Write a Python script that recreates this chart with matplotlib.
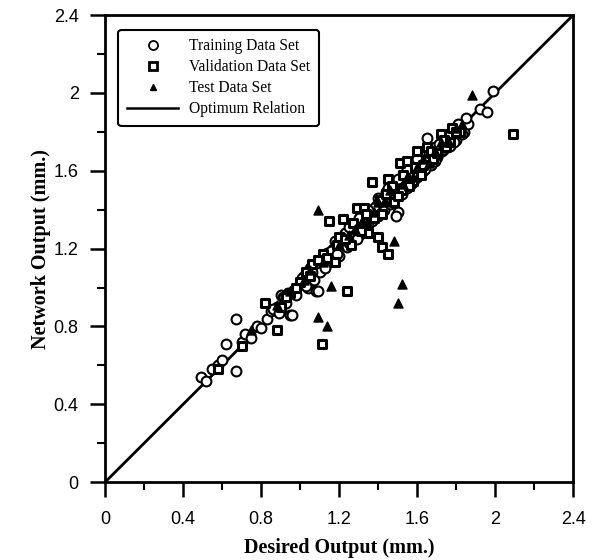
import matplotlib
matplotlib.use("Agg")
import matplotlib.pyplot as plt
from matplotlib.ticker import MultipleLocator
from matplotlib.lines import Line2D

train_x = [0.49,0.52,0.55,0.58,0.60,0.62,0.67,0.67,0.70,0.72,0.75,0.78,0.80,0.83,0.85,0.88,0.90,0.91,0.93,0.95,
           0.97,1.00,1.02,1.04,1.05,1.08,1.08,1.10,1.12,1.14,1.15,1.17,1.18,1.20,1.21,1.23,1.24,1.26,1.28,1.30,
           1.31,1.33,1.34,1.36,1.37,1.39,1.40,1.42,1.43,1.45,1.46,1.48,1.50,1.50,1.52,1.53,1.55,1.56,1.58,1.59,
           1.60,1.62,1.63,1.65,1.65,1.67,1.68,1.70,1.72,1.73,1.75,1.77,1.78,1.80,1.82,1.84,1.86,1.92,1.96,1.99,
           1.21,1.09,0.96,1.49,1.27,1.44,1.57,1.69,
           0.86,0.89,0.92,0.94,0.98,1.01,1.03,1.06,1.07,1.11,1.13,1.16,1.19,1.22,1.25,1.27,1.29,1.32,1.35,1.38,
           1.41,1.44,1.47,1.49,1.51,1.54,1.57,1.61,1.64,1.66,1.69,1.71,1.74,1.76,1.79,1.81,1.83,1.85,1.35,1.40,
           1.45,1.50,1.55,1.60,1.30,1.25]
train_y = [0.54,0.52,0.58,0.60,0.63,0.71,0.84,0.57,0.72,0.76,0.74,0.80,0.79,0.84,0.88,0.90,0.96,0.95,0.92,0.86,
           0.99,1.02,1.06,1.00,1.10,0.98,1.12,1.08,1.15,1.18,1.13,1.20,1.24,1.16,1.22,1.28,1.21,1.26,1.30,1.27,
           1.33,1.36,1.30,1.38,1.34,1.42,1.37,1.45,1.40,1.47,1.43,1.50,1.39,1.52,1.48,1.55,1.51,1.58,1.54,1.61,
           1.57,1.64,1.60,1.77,1.66,1.63,1.70,1.67,1.74,1.70,1.77,1.73,1.80,1.76,1.83,1.80,1.84,1.92,1.90,2.01,
           1.26,0.98,0.86,1.37,1.32,1.49,1.62,1.72,
           0.89,0.87,0.95,0.97,0.96,1.05,1.01,1.08,1.04,1.14,1.10,1.19,1.17,1.25,1.23,1.31,1.25,1.35,1.32,1.41,
           1.38,1.47,1.45,1.53,1.50,1.57,1.53,1.65,1.61,1.69,1.65,1.74,1.71,1.79,1.75,1.84,1.79,1.87,1.40,1.46,
           1.51,1.56,1.61,1.66,1.36,1.31]

val_x = [0.58,0.70,0.82,0.88,0.90,0.95,1.00,1.03,1.06,1.11,1.12,1.15,1.18,1.20,1.22,1.24,1.26,1.29,1.33,1.35,
         1.37,1.40,1.42,1.45,1.42,1.45,1.48,1.51,1.52,1.55,1.58,1.60,1.62,1.65,1.68,1.72,1.75,1.78,1.82,2.09,
         0.93,0.98,1.05,1.09,1.14,1.19,1.23,1.27,1.31,1.34,1.38,1.41,1.44,1.47,1.50,1.53,1.56,1.59,1.63,1.67,
         1.70,1.74,1.77,1.80]
val_y = [0.58,0.70,0.92,0.78,0.90,0.97,1.03,1.08,1.12,0.71,1.17,1.34,1.13,1.26,1.35,0.98,1.22,1.41,1.41,1.28,
         1.54,1.26,1.21,1.17,1.38,1.56,1.44,1.64,1.50,1.65,1.55,1.70,1.58,1.72,1.66,1.79,1.72,1.82,1.80,1.79,
         0.95,1.00,1.06,1.14,1.15,1.22,1.25,1.33,1.29,1.38,1.36,1.45,1.48,1.52,1.47,1.58,1.52,1.62,1.63,1.70,
         1.69,1.76,1.75,1.80]

test_x = [0.75,0.95,1.02,1.09,1.09,1.14,1.16,1.20,1.28,1.35,1.40,1.48,1.50,1.52,1.55,1.60,1.66,1.72,1.80,1.88,
          0.88,1.05,1.12,1.25,1.32,1.38,1.43,1.46,1.53,1.58,1.63,1.69,1.76,1.83]
test_y = [0.78,0.98,1.04,1.40,0.85,0.80,1.01,1.22,1.30,1.33,1.44,1.24,0.92,1.02,1.57,1.62,1.64,1.75,1.82,1.99,
          0.91,1.09,1.13,1.27,1.34,1.39,1.44,1.50,1.53,1.57,1.66,1.70,1.76,1.84]

line_x = [0, 2.4]
line_y = [0, 2.4]

fig = plt.figure(figsize=(5.97, 5.6), dpi=100)
ax = fig.add_axes([0.176, 0.139, 0.784, 0.834])

ax.plot(line_x, line_y, color='black', lw=2, zorder=1)
ax.scatter(train_x, train_y, s=50, facecolors='white', edgecolors='black', linewidths=1.5, marker='o', zorder=3)
ax.scatter(val_x, val_y, s=40, facecolors='white', edgecolors='black', linewidths=2.2, marker='s', zorder=3)
ax.scatter(test_x, test_y, s=42, color='black', marker='^', zorder=4)

ax.set_xlim(0, 2.4)
ax.set_ylim(0, 2.4)
ax.xaxis.set_minor_locator(MultipleLocator(0.2))
ax.yaxis.set_minor_locator(MultipleLocator(0.2))
ax.set_xticks([0, 0.4, 0.8, 1.2, 1.6, 2.0, 2.4])
ax.set_xticklabels(['0', '0.4', '0.8', '1.2', '1.6', '2', '2.4'])
ax.set_yticks([0, 0.4, 0.8, 1.2, 1.6, 2.0, 2.4])
ax.set_yticklabels(['0', '0.4', '0.8', '1.2', '1.6', '2', '2.4'])
ax.tick_params(which='major', direction='out', length=11, width=1.8, labelsize=13, pad=8, top=False, right=False)
ax.tick_params(axis='x', which='major', pad=10)
ax.tick_params(which='minor', direction='out', length=6, width=1.5, top=False, right=False)
for lab in ax.get_xticklabels() + ax.get_yticklabels():
    lab.set_family('Liberation Sans')
for s in ax.spines.values():
    s.set_linewidth(2)

ax.set_xlabel('Desired Output (mm.)', family='Liberation Serif', fontweight='bold', fontsize=14.5, labelpad=7)
ax.set_ylabel('Network Output (mm.)', family='Liberation Serif', fontweight='bold', fontsize=14.5, labelpad=2)

handles = [
    Line2D([], [], marker='o', ls='none', mfc='white', mec='black', ms=6.5, mew=1.3),
    Line2D([], [], marker='s', ls='none', mfc='white', mec='black', ms=6, mew=2),
    Line2D([], [], marker='^', ls='none', color='black', ms=5),
    Line2D([], [], color='black', lw=1.8),
]
labels = ['Training Data Set', 'Validation Data Set', 'Test Data Set', 'Optimum Relation']
leg = ax.legend(handles, labels, loc='upper left', prop={'family': 'Liberation Serif', 'size': 11.2},
                frameon=True, fancybox=True, edgecolor='black', framealpha=1,
                borderpad=0.55, labelspacing=0.32, handlelength=3.3, handletextpad=0.7,
                bbox_to_anchor=(0.012, 0.985))
leg.get_frame().set_linewidth(1.5)

fig.savefig('out.png', dpi=100)
